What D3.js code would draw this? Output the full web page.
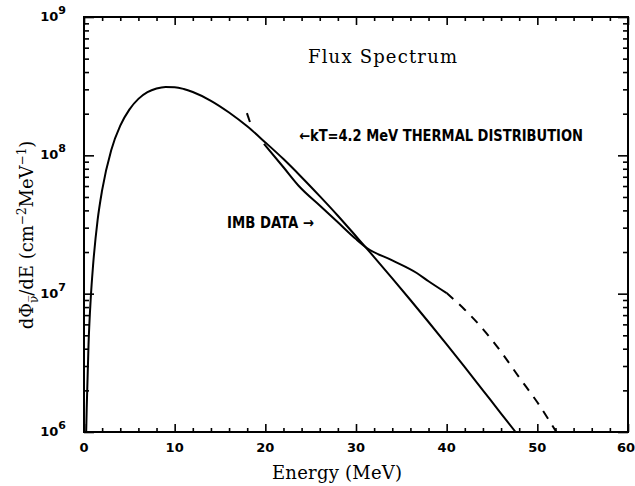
<!DOCTYPE html>
<html>
<head>
<meta charset="utf-8">
<script src="https://cdn.jsdelivr.net/npm/d3@7"></script>
<style>
  body { margin: 0; background: #fff; }
  svg { display: block; }
</style>
</head>
<body>
<svg id="chart" width="635" height="486"></svg>
<script>
// values
const thermalE = [0.24, 0.3, 0.5, 0.75, 1, 1.5, 2, 3, 4, 5, 6, 7, 8, 9, 10, 11, 12, 14, 16, 18, 20, 22, 24, 26, 28, 30, 32, 34, 36, 38, 40, 42, 44, 46, 47.6];
const thermalFlux = [1.0e6, 1.5e6, 4.3e6, 9.4e6, 1.6e7, 3.4e7, 5.6e7, 1.09e8, 1.64e8, 2.14e8, 2.56e8, 2.86e8, 3.04e8, 3.12e8, 3.11e8, 3.02e8, 2.87e8, 2.48e8, 2.04e8, 1.62e8, 1.24e8, 9.4e7, 6.95e7, 5.07e7, 3.66e7, 2.6e7, 1.84e7, 1.29e7, 9.0e6, 6.24e6, 4.3e6, 2.94e6, 2.0e6, 1.36e6, 1.0e6];

const imbE = [19.85, 22, 23.8, 26, 28, 30, 31.2, 34, 36.7, 38, 40];
const imbFlux = [1.21e8, 8.2e7, 5.9e7, 4.34e7, 3.28e7, 2.48e7, 2.14e7, 1.74e7, 1.41e7, 1.23e7, 1.01e7];

// dashed extrapolation past 40 MeV
const imbTailE = [40, 42, 44, 46, 48, 50, 52.1];
const imbTailFlux = [1.01e7, 7.66e6, 5.55e6, 3.8e6, 2.48e6, 1.64e6, 1.0e6];

const imbLeadE = [17.97, 18.3];
const imbLeadFlux = [2.02e8, 1.74e8];

const xMajor = [0, 10, 20, 30, 40, 50, 60];
const yMajor = [1e6, 1e7, 1e8, 1e9];
const yExp = ["6", "7", "8", "9"];

const svg = d3.select("#chart");
const margin = { top: 17, right: 7, bottom: 54, left: 84 };
const width = +svg.attr("width") - margin.left - margin.right;
const height = +svg.attr("height") - margin.top - margin.bottom;

const g = svg.append("g").attr("transform", "translate(" + margin.left + "," + margin.top + ")");

const x = d3.scaleLinear().domain([0, 60]).range([0, width]);
const y = d3.scaleLog().domain([1e6, 1e9]).range([height, 0]);

const xMinor = d3.range(0, 61, 2).filter(v => v % 10 !== 0);
const yMinor = y.ticks().filter(v => !yMajor.includes(v));

function styleAxis(sel) {
    sel.select(".domain").remove();
    sel.selectAll("line").attr("stroke", "#000").attr("stroke-width", 1.6);
    sel.selectAll("text").remove();
}

// bottom / top ticks
g.append("g").attr("transform", "translate(0," + height + ")")
    .call(d3.axisBottom(x).tickValues(xMajor).tickSize(-8)).call(styleAxis);
g.append("g").attr("transform", "translate(0," + height + ")")
    .call(d3.axisBottom(x).tickValues(xMinor).tickSize(-4)).call(styleAxis);
g.append("g")
    .call(d3.axisTop(x).tickValues(xMajor).tickSize(-8)).call(styleAxis);
g.append("g")
    .call(d3.axisTop(x).tickValues(xMinor).tickSize(-4)).call(styleAxis);

// left / right ticks
g.append("g").call(d3.axisLeft(y).tickValues(yMajor).tickSize(-10)).call(styleAxis);
g.append("g").call(d3.axisLeft(y).tickValues(yMinor).tickSize(-5)).call(styleAxis);
g.append("g").attr("transform", "translate(" + width + ",0)")
    .call(d3.axisRight(y).tickValues(yMajor).tickSize(-10)).call(styleAxis);
g.append("g").attr("transform", "translate(" + width + ",0)")
    .call(d3.axisRight(y).tickValues(yMinor).tickSize(-5)).call(styleAxis);

// frame
g.append("rect")
    .attr("width", width)
    .attr("height", height)
    .attr("fill", "none")
    .attr("stroke", "#000")
    .attr("stroke-width", 2);

// tick labels
g.selectAll(".xlab")
    .data(xMajor)
    .enter().append("text")
    .attr("class", "xlab")
    .attr("x", d => d === 60 ? x(d) - 2 : x(d))
    .attr("y", height + 20)
    .attr("text-anchor", "middle")
    .attr("font-family", "DejaVu Sans")
    .attr("font-weight", "bold")
    .attr("font-size", 13)
    .text(d => d);

const ylab = g.selectAll(".ylab")
    .data(yMajor)
    .enter().append("text")
    .attr("class", "ylab")
    .attr("x", -18)
    .attr("y", d => y(d) + 4)
    .attr("text-anchor", "end")
    .attr("font-family", "DejaVu Sans")
    .attr("font-weight", "bold")
    .attr("font-size", 13);
ylab.append("tspan").text("10");
ylab.append("tspan")
    .attr("dy", -7)
    .attr("font-size", 11)
    .text((d, i) => yExp[i]);

// curves
const line = d3.line()
    .x(d => x(d[0]))
    .y(d => y(d[1]))
    .curve(d3.curveMonotoneX);

function drawCurve(es, fs, dash) {
    g.append("path")
        .datum(es.map((e, i) => [e, fs[i]]))
        .attr("fill", "none")
        .attr("stroke", "#000")
        .attr("stroke-width", 2)
        .attr("stroke-dasharray", dash)
        .attr("d", line);
}

drawCurve(thermalE, thermalFlux, null);
drawCurve(imbE, imbFlux, null);
drawCurve(imbTailE, imbTailFlux, "9,8");
drawCurve(imbLeadE, imbLeadFlux, null);

// annotations
svg.append("text")
    .attr("x", 308)
    .attr("y", 63)
    .attr("font-family", "DejaVu Serif")
    .attr("font-size", 18)
    .attr("textLength", 149)
    .text("Flux Spectrum");

svg.append("text")
    .attr("x", 299)
    .attr("y", 141)
    .attr("font-family", "DejaVu Sans Condensed, DejaVu Sans")
    .attr("font-weight", "bold")
    .attr("font-size", 15)
    .attr("textLength", 284)
    .attr("lengthAdjust", "spacingAndGlyphs")
    .text("\u2190kT=4.2 MeV THERMAL DISTRIBUTION");

svg.append("text")
    .attr("x", 227)
    .attr("y", 228)
    .attr("font-family", "DejaVu Sans Condensed, DejaVu Sans")
    .attr("font-weight", "bold")
    .attr("font-size", 15)
    .attr("textLength", 87)
    .attr("lengthAdjust", "spacingAndGlyphs")
    .text("IMB DATA \u2192");

// axis titles
svg.append("text")
    .attr("x", 337)
    .attr("y", 479)
    .attr("text-anchor", "middle")
    .attr("font-family", "DejaVu Serif")
    .attr("font-size", 18)
    .attr("textLength", 130)
    .text("Energy (MeV)");

const yt = svg.append("text")
    .attr("transform", "translate(33,235) rotate(-90)")
    .attr("text-anchor", "middle")
    .attr("font-family", "DejaVu Serif")
    .attr("font-size", 18);
yt.append("tspan").text("d\u03A6");
yt.append("tspan").attr("dy", 5).attr("font-size", 12).text("\u03BD\u0305");
yt.append("tspan").attr("dy", -5).text("/dE (cm");
yt.append("tspan").attr("dy", -7).attr("font-size", 12).text("\u22122");
yt.append("tspan").attr("dy", 7).text("MeV");
yt.append("tspan").attr("dy", -7).attr("font-size", 12).text("\u22121");
yt.append("tspan").attr("dy", 7).text(")");
</script>
</body>
</html>
